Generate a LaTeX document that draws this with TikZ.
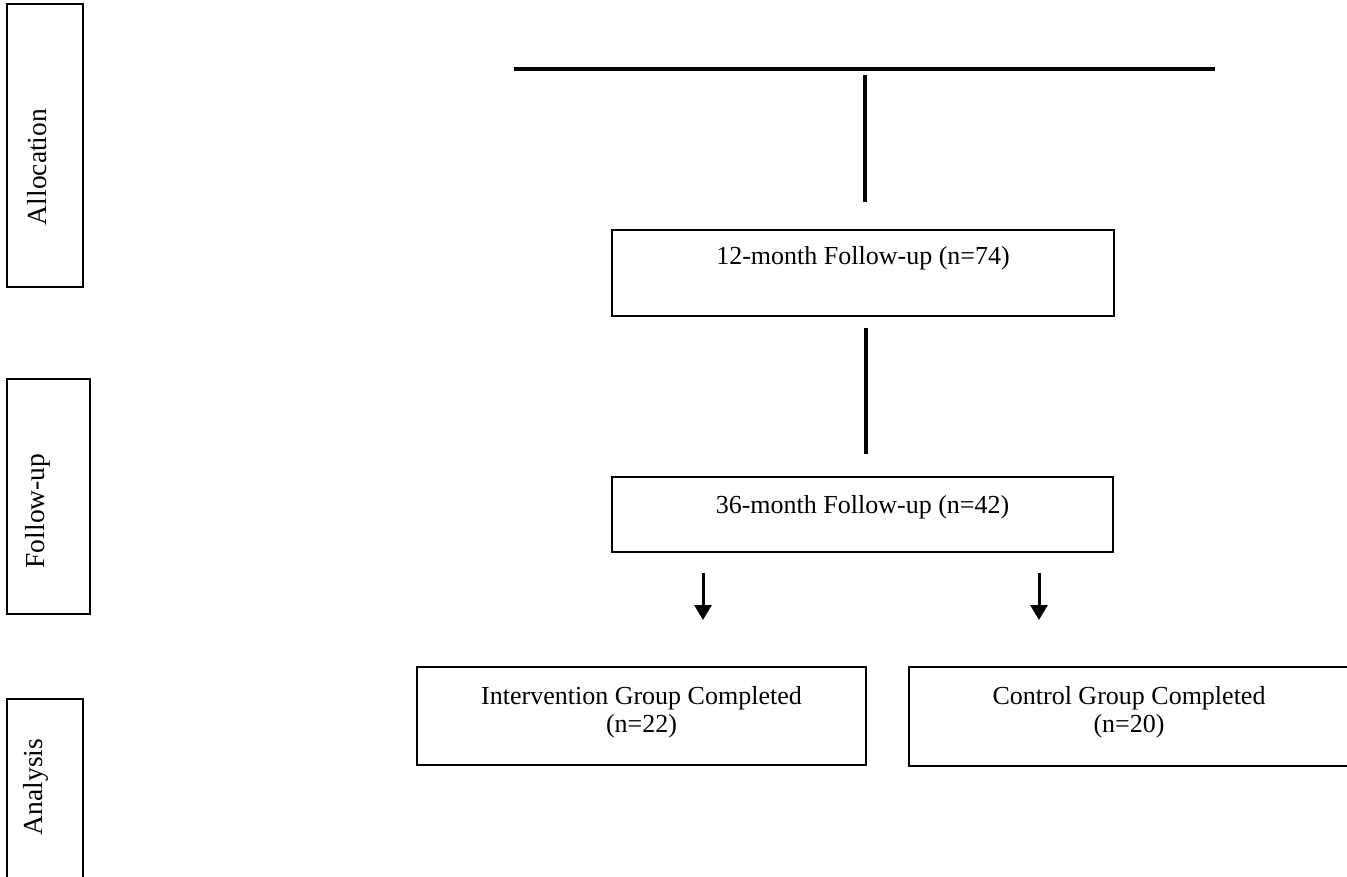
\documentclass[tikz,border=0pt]{standalone}
\usepackage{fontspec}
\setmainfont{Liberation Serif}
\usetikzlibrary{positioning,arrows.meta}

\begin{document}
\begin{tikzpicture}[
    x=1pt, y=-1pt,
    stage box/.style={rectangle, draw=black, line width=2pt, inner sep=0pt},
    stage text/.style={font=\fontsize{27.5}{30}\selectfont, rotate=90, inner sep=0pt},
    flow box/.style={rectangle, draw=black, line width=2pt, inner sep=0pt},
    flow text/.style={font=\fontsize{26}{28}\selectfont, align=center, inner sep=0pt},
    bar line/.style={line width=4pt, draw=black},
    down arrow/.style={line width=3pt, draw=black, -{Triangle[width=17pt,length=15pt]}}
]
\useasboundingbox (0,0) rectangle (1347,877);

% Stufen links: Allocation / Follow-up / Analysis
\node[stage box, minimum width=76pt, minimum height=283pt] (SAlloc)  at (45,145.5) {};
\node[stage box, minimum width=83pt, minimum height=235pt] (SFollow) at (48.5,496.5) {};
\node[stage box, minimum width=76pt, minimum height=186pt] (SAnal)   at (45,792) {};
\node[stage text] (TAlloc)  at (37,167) {Allocation};
\node[stage text] (TFollow) at (38,511) {Follow-up};
\node[stage text] (TAnal)   at (36,787) {Analysis};

% Boxen der Nachbeobachtung
\node[flow box, minimum width=502pt, minimum height=86pt] (F12) at (863,273) {};
\node[flow text, below=17pt of F12.north] (T12) {12-month Follow-up (n=74)};
\node[flow box, minimum width=501pt, minimum height=75pt] (F36) at (862.5,514.5) {};
\node[flow text, below=19pt of F36.north] (T36) {36-month Follow-up (n=42)};

% Gruppen
\node[flow box, minimum width=449pt, minimum height=98pt] (GInt) at (641.5,716) {};
\node[flow text, below=20pt of GInt.north] (TInt) {Intervention Group Completed\\(n=22)};
\node[flow box, minimum width=440pt, minimum height=99pt] (GCon) at (1129,716.5) {};
\node[flow text, below=20pt of GCon.north] (TCon) {Control Group Completed\\(n=20)};

% Linien oben und zwischen den Boxen
\coordinate (BarL) at (514,69);
\coordinate (BarR) at (1215,69);
\coordinate (V1a) at (865,75);
\coordinate (V1b) at (865,202);
\coordinate (V2a) at (866,328);
\coordinate (V2b) at (866,454);
\draw[bar line] (BarL) -- (BarR);
\draw[bar line] (V1a) -- (V1b);
\draw[bar line] (V2a) -- (V2b);

% Pfeile zu den Gruppen
\coordinate (AIa) at (703,573);
\coordinate (AIb) at (703,620);
\coordinate (ACa) at (1039,573);
\coordinate (ACb) at (1039,620);
\draw[down arrow] (AIa) -- (AIb);
\draw[down arrow] (ACa) -- (ACb);

\end{tikzpicture}
\end{document}
